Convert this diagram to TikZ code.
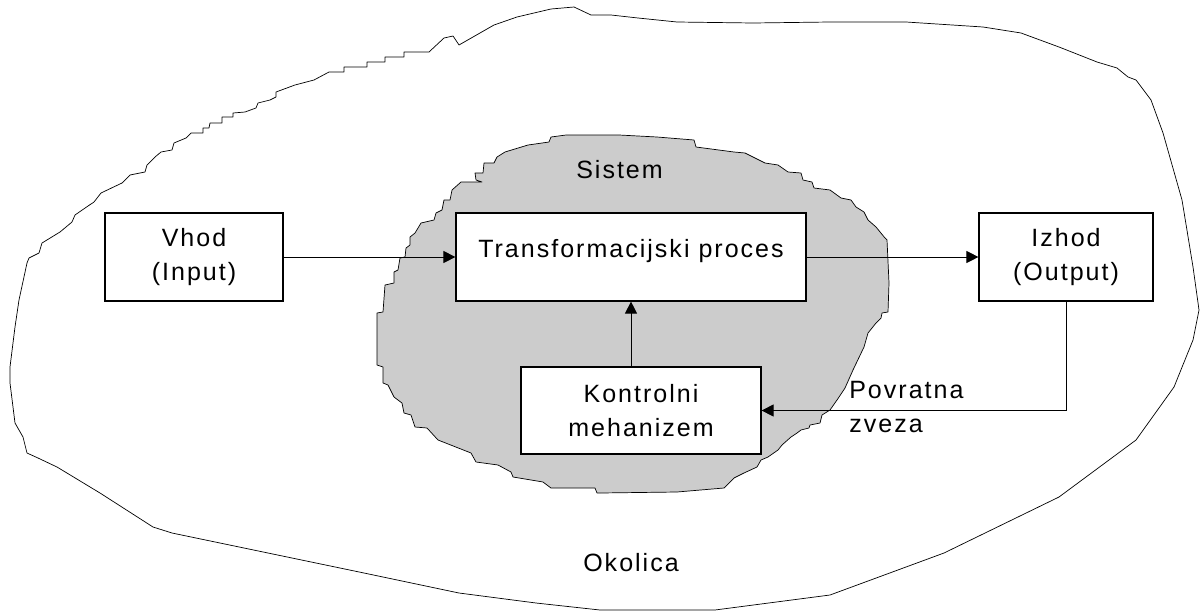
\documentclass[tikz,border=0pt]{standalone}
\usepackage{fontspec}
\setmainfont{Liberation Sans}[LetterSpace=8]
\usetikzlibrary{arrows.meta}
\definecolor{sivo}{HTML}{CCCCCC}
\tikzset{
	box/.style={draw, line width=0.8pt, fill=white, inner sep=0pt, align=center, minimum height=2.2cm},
	arr/.style={line width=0.6pt, -{Triangle[length=8.5pt, width=8.5pt]}},
	meja/.style={line width=0.5pt, line join=round}
}
\begin{document}
\begin{tikzpicture}[x=0.025cm, y=-0.025cm, font=\fontsize{17.8}{24.5}\selectfont]
		\useasboundingbox (0,0) rectangle (1201,612);
		% okolica
		\draw [meja] (600,15) -- (611,15) -- (638,18) -- (677,22) -- (753,23) -- (830,22) -- (906,22) -- (983,27) -- (1021,33) -- (1059,47) -- (1097,62) -- (1117,68) -- (1128,77) -- (1136,80) -- (1151,100) -- (1163,133) -- (1182,200) -- (1193,267) -- (1199,310) -- (1193,340) -- (1174,387) -- (1136,440) -- (1059,497) -- (944,553) -- (830,595) -- (715,610) -- (600,610) -- (536,603) -- (459,593) -- (364,573) -- (268,553) -- (172,533) -- (153,527) -- (100,493) -- (57,467) -- (38,458) -- (27,453) -- (23,437) -- (15,423) -- (10,383) -- (10,367) -- (15,327) -- (19,300) -- (27,263) -- (29,258) -- (39,253) -- (42,243) -- (60,232) -- (72,222) -- (75,215) -- (88,206) -- (94,202) -- (101,193) -- (122,183) -- (125,180) -- (130,175) -- (145,172) -- (147,165) -- (155,157) -- (161,152) -- (172,150) -- (174,143) -- (186,138) -- (191,133) -- (203,133) -- (203,128) -- (209,128) -- (210,123) -- (222,123) -- (222,117) -- (233,117) -- (233,113) -- (245,112) -- (256,108) -- (258,103) -- (270,100) -- (276,97) -- (276,92) -- (295,85) -- (314,80) -- (329,72) -- (344,72) -- (344,67) -- (367,67) -- (367,62) -- (385,62) -- (385,57) -- (404,57) -- (404,52) -- (429,52) -- (444,38) -- (453,36) -- (459,45) -- (494,25) -- (517,17) -- (551,9) -- (574,7) -- (591,15) -- cycle;
		% sistem
		\draw [meja, fill=sivo] (600,135) -- (619,135) -- (657,137) -- (694,140) -- (696,147) -- (734,152) -- (745,153) -- (765,163) -- (778,165) -- (788,172) -- (801,173) -- (803,180) -- (812,182) -- (814,188) -- (830,190) -- (841,198) -- (851,200) -- (856,207) -- (864,212) -- (868,220) -- (876,227) -- (885,238) -- (887,240) -- (889,283) -- (888,312) -- (882,313) -- (881,318) -- (876,323) -- (868,333) -- (864,347) -- (853,370) -- (845,388) -- (837,400) -- (830,410) -- (822,415) -- (820,423) -- (810,425) -- (809,428) -- (801,430) -- (797,433) -- (791,437) -- (782,445) -- (778,450) -- (768,457) -- (761,460) -- (757,467) -- (744,473) -- (734,478) -- (724,488) -- (677,492) -- (600,493) -- (597,493) -- (595,488) -- (551,488) -- (543,482) -- (513,477) -- (511,472) -- (498,465) -- (476,462) -- (471,453) -- (438,440) -- (427,428) -- (415,427) -- (411,415) -- (404,413) -- (402,403) -- (394,397) -- (388,385) -- (383,383) -- (383,367) -- (377,365) -- (377,313) -- (383,312) -- (385,285) -- (394,283) -- (394,272) -- (398,270) -- (400,258) -- (405,257) -- (406,248) -- (410,245) -- (410,237) -- (415,233) -- (421,223) -- (434,220) -- (436,213) -- (442,210) -- (444,200) -- (450,200) -- (452,190) -- (461,182) -- (482,182) -- (476,180) -- (475,173) -- (483,173) -- (484,163) -- (494,163) -- (497,157) -- (505,152) -- (528,145) -- (549,142) -- (551,137) -- (566,135) -- cycle;
		\node [anchor=base] (sistem) at (619.5,178) {Sistem};
		\node [anchor=base] (okolica) at (631,571.7) {Okolica};
		\node [box, minimum width=4.45cm] (vhod) at (194,257) {Vhod\\(Input)};
		\node [box, minimum width=8.75cm, text height=0.5em, text depth=0.5em] (proces) at (631,257) {Transformacijski proces};
		\node [box, minimum width=4.35cm] (izhod) at (1066,257) {Izhod\\(Output)};
		\node [box, minimum width=6cm, minimum height=2.175cm] (kontrola) at (641,410.5) {Kontrolni\\mehanizem};
		\draw [arr] (vhod) edge (proces);
		\draw [arr] (proces) edge (izhod);
		\draw [arr] (proces.south |- kontrola.north) -- (proces.south);
		\draw [arr] (izhod.south) |- (kontrola.east);
		\node [anchor=west, align=left, inner sep=0pt] (zveza) at (849,407) {Povratna\\zveza};
		\end{tikzpicture}
\end{document}
